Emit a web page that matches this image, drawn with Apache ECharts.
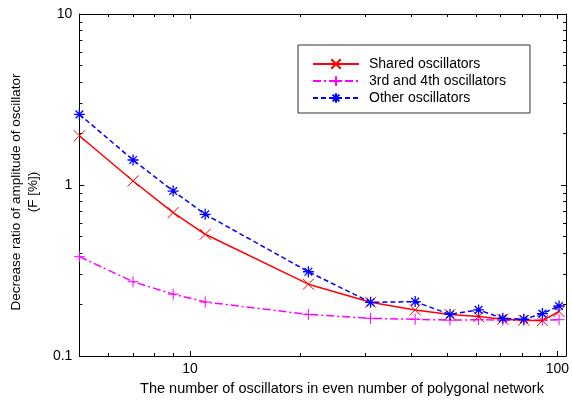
<!DOCTYPE html>
<html>
<head>
<meta charset="utf-8">
<script src="https://cdn.jsdelivr.net/npm/echarts@6/dist/echarts.min.js"></script>
<style>html,body{margin:0;padding:0;background:#fff;}#chart{width:572px;height:402px;}</style>
</head>
<body>
<div id="chart"></div>
<script>
var xValues = [5, 7, 9, 11, 21, 31, 41, 51, 61, 71, 81, 91, 101];
var sharedValues = [1.94, 1.055, 0.69, 0.515, 0.263, 0.206, 0.186, 0.175, 0.170, 0.164, 0.162, 0.161, 0.182];
var thirdFourthValues = [0.381, 0.272, 0.230, 0.207, 0.175, 0.166, 0.164, 0.162, 0.163, 0.162, 0.162, 0.162, 0.163];
var otherValues = [2.59, 1.40, 0.922, 0.674, 0.311, 0.206, 0.208, 0.175, 0.186, 0.166, 0.164, 0.177, 0.196];
var seriesNames = ['Shared oscillators', '3rd and 4th oscillators', 'Other oscillators'];
var xMajorTicks = [10, 100];
var xMinorTicks = [6, 7, 8, 9, 20, 30, 40, 50, 60, 70, 80, 90];
var yMajorTicks = [0.1, 1, 10];
var yMinorTicks = [0.2, 0.3, 0.4, 0.5, 0.6, 0.7, 0.8, 0.9, 2, 3, 4, 5, 6, 7, 8, 9];
var xLabel = 'The number of oscillators in even number of polygonal network';
var yLabel = 'Decrease ratio of amplitude of oscillator\n(F [%])';

function pairs(xs, ys) { return xs.map(function (x, i) { return [x, ys[i]]; }); }

var FONT = 'Liberation Sans, Arial, Helvetica, sans-serif';
var X_MIN = 5, X_MAX = 105.5, Y_MIN = 0.1, Y_MAX = 10;

function xAx(pos, ticks, len, showLabel, showLine) {
  return {
    type: 'log', logBase: 10, min: X_MIN, max: X_MAX, position: pos,
    axisLine: { show: showLine, onZero: false, lineStyle: { color: '#000', width: 1 } },
    axisTick: { show: true, inside: true, length: len, customValues: ticks, lineStyle: { color: '#000', width: 1 } },
    axisLabel: { show: showLabel, customValues: ticks, color: '#000', fontSize: 14, fontFamily: FONT, margin: 6 },
    splitLine: { show: false }, minorTick: { show: false }
  };
}
function yAx(pos, ticks, len, showLabel, showLine) {
  return {
    type: 'log', logBase: 10, min: Y_MIN, max: Y_MAX, position: pos,
    axisLine: { show: showLine, onZero: false, lineStyle: { color: '#000', width: 1 } },
    axisTick: { show: true, inside: true, length: len, customValues: ticks, lineStyle: { color: '#000', width: 1 } },
    axisLabel: { show: showLabel, customValues: ticks, color: '#000', fontSize: 14, fontFamily: FONT, margin: 7,
      formatter: function (v) { return String(+v.toPrecision(6)); } },
    splitLine: { show: false }, minorTick: { show: false }
  };
}

var xAxes = [
  xAx('bottom', xMajorTicks, 5, true, true),
  xAx('bottom', xMinorTicks, 3, false, false),
  xAx('top', xMajorTicks, 5, false, true),
  xAx('top', xMinorTicks, 3, false, false)
];
var yAxes = [
  yAx('left', yMajorTicks, 5, true, true),
  yAx('left', yMinorTicks, 3, false, false),
  yAx('right', yMajorTicks, 5, false, true),
  yAx('right', yMinorTicks, 3, false, false)
];
yAxes[0].name = yLabel;
yAxes[0].nameLocation = 'middle';
yAxes[0].nameGap = 28;
yAxes[0].nameTextStyle = { color: '#000', fontSize: 13.5, fontFamily: FONT, lineHeight: 17, padding: [0, 14, 0, 0] };

var crossSym = 'path://M0,0L10,10M10,0L0,10';
var plusSym = 'path://M5,0L5,10M0,5L10,5';
var starSym = 'path://M5,0L5,10M0,5L10,5M1.5,1.5L8.5,8.5M8.5,1.5L1.5,8.5';

var option = {
  animation: false,
  backgroundColor: '#fff',
  grid: { left: 67, top: 14, right: 6, bottom: 46, containLabel: false },
  xAxis: xAxes,
  yAxis: yAxes,
  legend: {
    orient: 'vertical', left: 298, top: 45,
    borderColor: '#333', borderWidth: 1, borderRadius: 0,
    padding: [12, 24, 8, 14], itemGap: 3, itemWidth: 46, itemHeight: 12,
    textStyle: { color: '#000', fontSize: 14, fontFamily: FONT, padding: [0, 0, 0, 5] },
    data: seriesNames
  },
  graphic: [{
    type: 'text', x: 342, y: 389,
    style: { text: xLabel, fill: '#000', font: '14.5px ' + FONT, textAlign: 'center', textVerticalAlign: 'middle' }
  }],
  series: [
    {
      name: seriesNames[0], type: 'line', data: pairs(xValues, sharedValues),
      symbol: crossSym, symbolSize: 11,
      lineStyle: { color: '#ff0000', width: 1.5, type: 'solid' },
      itemStyle: { color: '#ff0000', borderColor: '#ff0000', borderWidth: 1 },
      z: 3
    },
    {
      name: seriesNames[1], type: 'line', data: pairs(xValues, thirdFourthValues),
      symbol: plusSym, symbolSize: 11,
      lineStyle: { color: '#ff00ff', width: 1.5, type: [8, 3, 2, 3] },
      itemStyle: { color: '#ff00ff', borderColor: '#ff00ff', borderWidth: 1 },
      z: 2
    },
    {
      name: seriesNames[2], type: 'line', data: pairs(xValues, otherValues),
      symbol: starSym, symbolSize: 11,
      lineStyle: { color: '#0000ff', width: 1.5, type: [5, 3] },
      itemStyle: { color: '#0000ff', borderColor: '#0000ff', borderWidth: 1.3 },
      z: 4
    }
  ]
};

var chart = echarts.init(document.getElementById('chart'), null, { renderer: 'canvas' });
chart.setOption(option);
</script>
</body>
</html>
